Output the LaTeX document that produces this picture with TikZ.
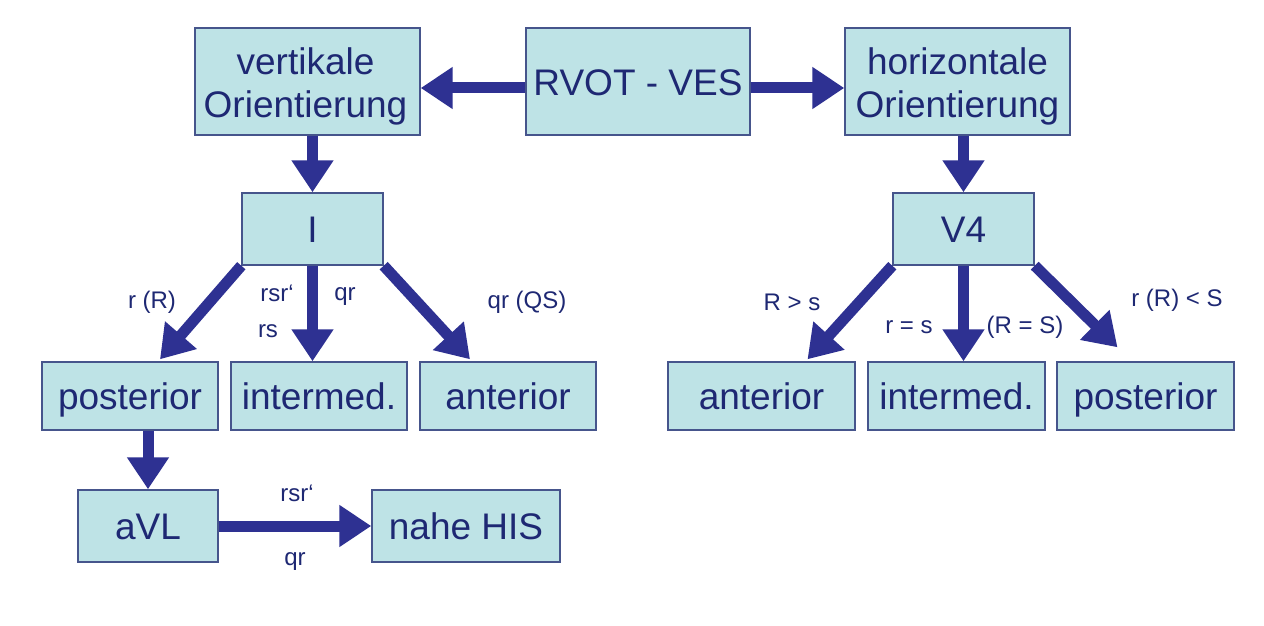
\documentclass[tikz,border=0pt]{standalone}
\usepackage{fontspec}
\setmainfont{Liberation Sans}
\usetikzlibrary{arrows.meta}
\definecolor{boxfill}{RGB}{190,227,230}
\definecolor{boxline}{RGB}{70,85,140}
\definecolor{arrowc}{RGB}{46,49,146}
\definecolor{textc}{RGB}{30,40,115}
\begin{document}
\begin{tikzpicture}[x=0.5pt,y=-0.5pt,
  box/.style={draw=boxline, line width=0.7pt, fill=boxfill, inner sep=0pt, text=textc,
     font=\fontsize{18.5}{21.5}\selectfont, align=center, text height=17.8pt, text depth=4pt},
  tbox/.style={draw=boxline, line width=0.7pt, fill=boxfill, inner sep=0pt},
  btext/.style={inner sep=0pt, text=textc, font=\fontsize{18.5}{21.5}\selectfont, align=center},
  conn/.style={draw=arrowc, line width=5.5pt, -{Triangle[width=20pt,length=16pt]}},
  lbl/.style={text=textc, font=\fontsize{12}{14}\selectfont, inner sep=0pt}]
\useasboundingbox (0,0) rectangle (1264,626);
\fill[white] (0,0) rectangle (1264,626);
% boxes
\node[tbox, minimum width=112.5pt, minimum height=53.5pt] (vert) at (307.5,81.5) {};
\node[btext] (vertT) at ([xshift=-1pt,yshift=-2.5pt]vert.center) {vertikale\\Orientierung};
\node[box, minimum width=112pt, minimum height=53.5pt] (rvot) at (638,81.5) {RVOT - VES};
\node[tbox, minimum width=112.5pt, minimum height=53.5pt] (horiz) at (957.5,81.5) {};
\node[btext] (horizT) at ([yshift=-2.5pt]horiz.center) {horizontale\\Orientierung};
\node[box, minimum width=70.5pt, minimum height=36pt] (I) at (312.5,229) {I};
\node[box, minimum width=70.5pt, minimum height=36pt] (V4) at (963.5,229) {V4};
\node[box, minimum width=88pt, minimum height=34pt] (postL) at (130,396) {posterior};
\node[box, minimum width=88pt, minimum height=34pt] (intL) at (319,396) {intermed.};
\node[box, minimum width=88pt, minimum height=34pt] (antL) at (508,396) {anterior};
\node[box, minimum width=93.5pt, minimum height=34pt] (antR) at (761.5,396) {anterior};
\node[box, minimum width=88.5pt, minimum height=34pt] (intR) at (956.5,396) {intermed.};
\node[box, minimum width=88.5pt, minimum height=34pt] (postR) at (1145.5,396) {posterior};
\node[box, minimum width=70pt, minimum height=36pt] (aVL) at (148,526) {aVL};
\node[box, minimum width=94pt, minimum height=36pt] (his) at (466,526) {nahe HIS};
% connectors
\draw[conn] ([yshift=-3.25pt]rvot.west) -- ([yshift=-3.25pt]vert.east);
\draw[conn] ([yshift=-3.25pt]rvot.east) -- ([yshift=-3.25pt]horiz.west);
\draw[conn] (I.north |- vert.south) -- (I.north);
\draw[conn] (V4.north |- horiz.south) -- (V4.north);
\draw[conn] (I.south west) -- ([xshift=15pt,yshift=1pt]postL.north);
\draw[conn] (I.south) -- (I.south |- intL.north);
\draw[conn] (I.south east) -- ([xshift=-19pt,yshift=1pt]antL.north);
\draw[conn] (V4.south west) -- ([xshift=23pt,yshift=1pt]antR.north);
\draw[conn] (V4.south) -- (V4.south |- intR.north);
\draw[conn] (V4.south east) -- ([xshift=-14pt,yshift=7pt]postR.north);
\draw[conn] (aVL.north |- postL.south) -- (aVL.north);
\draw[conn] (aVL.east) -- (his.west);
% labels
\node[lbl] (l1) at (152,302) {r (R)};
\node[lbl] (l2) at (277,293) {rsr‘};
\node[lbl] (l3) at (268,331) {rs};
\node[lbl] (l4) at (345,297) {qr};
\node[lbl] (l5) at (527,302) {qr (QS)};
\node[lbl] (l6) at (792,302) {R > s};
\node[lbl] (l7) at (909,327) {r = s};
\node[lbl] (l8) at (1025,327) {(R = S)};
\node[lbl] (l9) at (1177,300) {r (R) < S};
\node[lbl] (l10) at (297,493) {rsr‘};
\node[lbl] (l11) at (295,562) {qr};
\end{tikzpicture}
\end{document}
